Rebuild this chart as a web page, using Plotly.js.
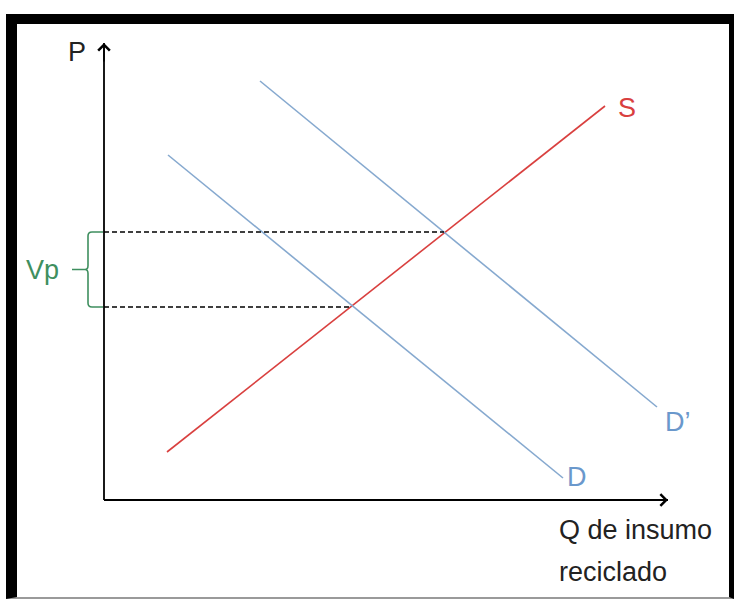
<!DOCTYPE html>
<html>
<head>
<meta charset="utf-8">
<script src="https://cdn.plot.ly/plotly-3.0.1.min.js"></script>
<style>
  html, body { margin:0; padding:0; background:#fff; width:734px; height:599px; overflow:hidden; }
  #frame { position:absolute; left:6px; top:14px; width:728px; height:585px; box-sizing:border-box;
           border-left:11px solid #000; border-top:10px solid #000; border-right:5px solid #000; border-bottom:2px solid #9a9a9a; }
  #chart { position:absolute; left:0; top:0; width:734px; height:599px; }
</style>
</head>
<body>
<div id="frame"></div>
<div id="chart"></div>
<script>
// Conceptual chart values (quantity / price units)
const supplyQ   = [63, 501];
const supplyP   = [48, 394];
const demandQ   = [64, 459];
const demandP   = [345, 22];
const demand2Q  = [156, 553];
const demand2P  = [419, 93];
const eqQ       = [247, 340];   // Q at D∩S and D'∩S
const eqP       = [193, 268];   // P at D∩S and D'∩S
const axisMax   = [564, 457];   // x-axis tip, y-axis tip

const red = '#d9403f', blue = '#86a9cf', blueTxt = '#6a98cc', green = '#3f8f5f';
const font = 'Liberation Sans, Arial, sans-serif';

const traces = [
  {x: supplyQ, y: supplyP, mode: 'lines', line: {color: red, width: 1.6}, hoverinfo: 'skip'},
  {x: demandQ, y: demandP, mode: 'lines', line: {color: blue, width: 1.6}, hoverinfo: 'skip'},
  {x: demand2Q, y: demand2P, mode: 'lines', line: {color: blue, width: 1.6}, hoverinfo: 'skip'}
];

const shapes = [];
// axes
shapes.push({type:'line', xref:'x', yref:'y', x0:0, y0:0, x1:axisMax[0], y1:0, line:{color:'#000', width:1.8}});
shapes.push({type:'line', xref:'x', yref:'y', x0:0, y0:0, x1:0, y1:axisMax[1], line:{color:'#000', width:1.8}});
// dashed price lines
for (let i = 0; i < eqQ.length; i++) {
  shapes.push({type:'line', xref:'x', yref:'y', x0:0, y0:eqP[i], x1:eqQ[i], y1:eqP[i],
               line:{color:'#000', width:1.3, dash:'5px,3px'}});
}
// brace
const lo = eqP[0], hi = eqP[1], mid = (lo + hi) / 2;
const bx = -16, r = 4;
const bracePath = `M -1,${hi} L ${bx+r},${hi} Q ${bx},${hi} ${bx},${hi-r} L ${bx},${mid+r} ` +
  `Q ${bx},${mid} ${bx-3},${mid} Q ${bx},${mid} ${bx},${mid-r} L ${bx},${lo+r} Q ${bx},${lo} ${bx+r},${lo} L -1,${lo} ` +
  `M ${bx-3},${mid} L ${bx-16},${mid}`;
shapes.push({type:'path', xref:'x', yref:'y', path: bracePath, line:{color:green, width:1.6}});

const annotations = [
  // arrowheads
  {x: axisMax[0], y: 0, ax: axisMax[0]-20, ay: 0, axref:'x', ayref:'y', xref:'x', yref:'y', text:'',
   showarrow:true, arrowhead:4, arrowsize:1.5, arrowwidth:1.5, arrowcolor:'#000'},
  {x: 0, y: axisMax[1], ax: 0, ay: axisMax[1]-20, axref:'x', ayref:'y', xref:'x', yref:'y', text:'',
   showarrow:true, arrowhead:4, arrowsize:1.5, arrowwidth:1.5, arrowcolor:'#000'},
  // labels
  {x: -27, y: 448, xref:'x', yref:'y', text:'P', showarrow:false, font:{family:font, size:27, color:'#222'}},
  {x: -62, y: mid, xref:'x', yref:'y', text:'Vp', showarrow:false, font:{family:font, size:27, color:green}},
  {x: 523, y: 392, xref:'x', yref:'y', text:'S', showarrow:false, font:{family:font, size:27, color:red}},
  {x: 473, y: 23, xref:'x', yref:'y', text:'D', showarrow:false, font:{family:font, size:27, color:blueTxt}},
  {x: 574, y: 78, xref:'x', yref:'y', text:'D’', showarrow:false, font:{family:font, size:27, color:blueTxt}},
  {x: 453, y: -30, xref:'x', yref:'y', xanchor:'left', text:'Q de insumo', showarrow:false, font:{family:font, size:27, color:'#222'}},
  {x: 453, y: -72, xref:'x', yref:'y', xanchor:'left', text:'reciclado', showarrow:false, font:{family:font, size:27, color:'#222'}}
];

const hidden = {showgrid:false, zeroline:false, showticklabels:false, showline:false, ticks:'', fixedrange:true};
const layout = {
  width: 734, height: 599,
  margin: {l:0, r:0, t:0, b:0, pad:0},
  paper_bgcolor: 'rgba(0,0,0,0)', plot_bgcolor: 'rgba(0,0,0,0)',
  showlegend: false,
  xaxis: Object.assign({range:[-104, 630]}, hidden),
  yaxis: Object.assign({range:[-99, 500]}, hidden),
  shapes: shapes,
  annotations: annotations
};
Plotly.newPlot('chart', traces, layout, {staticPlot:true, displayModeBar:false});
</script>
</body>
</html>
